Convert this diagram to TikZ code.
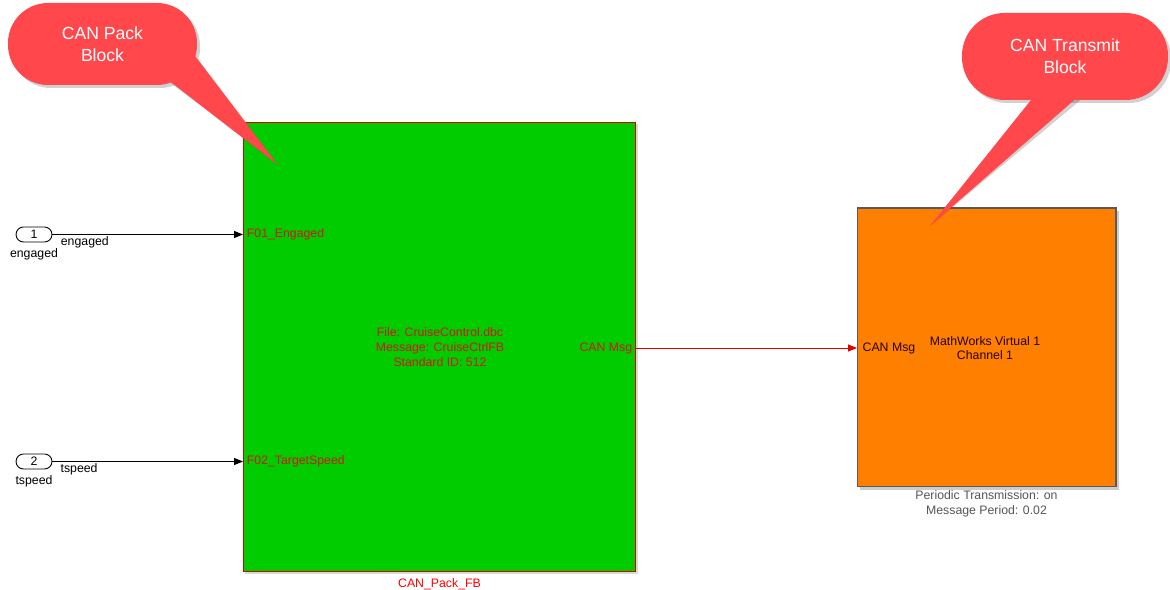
\documentclass[tikz,border=0pt]{standalone}
\usepackage{fontspec}
\setmainfont{Liberation Sans}
\usetikzlibrary{arrows.meta}
\definecolor{blkgreen}{RGB}{0,204,0}
\definecolor{blkorange}{RGB}{255,128,0}
\definecolor{callred}{RGB}{255,71,76}
\definecolor{portred}{RGB}{215,20,20}
\definecolor{gtext}{RGB}{85,85,85}
\tikzset{
  sl/.style={font=\fontsize{7}{8.4}\selectfont},
  blockpack/.style={draw=red!85!black, line width=0.6pt, fill=blkgreen, inner sep=0, outer sep=0,
    minimum width=7.86cm, minimum height=9cm},
  blocktx/.style={draw=black!65, line width=0.6pt, fill=blkorange, inner sep=0, outer sep=0,
    minimum width=5.18cm, minimum height=5.58cm},
  inport/.style={draw=black, line width=0.5pt, fill=white, rounded corners=0.15cm, inner sep=0,
    minimum width=0.72cm, minimum height=0.3cm, sl},
  sig/.style={line width=0.5pt, -{Triangle[length=1.8mm,width=1.4mm]}},
  pill/.style={fill=callred, rounded corners=0.8cm, inner sep=0, text=white, align=center,
    font=\fontsize{10}{12.5}\selectfont},
  shad/.style={fill=black, opacity=0.18},
}
\begin{document}
\begin{tikzpicture}[x=0.02cm,y=-0.02cm]
\useasboundingbox (0,0) rectangle (1170,590);

% blocks
\fill[black, opacity=0.2] (860,211) rectangle (1119,490);
\fill[black, opacity=0.15] (245,124) rectangle (638,574);
\node[blockpack] (pack) at (439.5,347) {};
\node[blocktx] (tx) at (986.5,347.5) {};

% inports
\node[inport] (in1) at (34,234.5) {1};
\node[sl, anchor=north] (in1lab) at (in1.south) {engaged};
\node[inport] (in2) at (34,461.5) {2};
\node[sl, anchor=north] (in2lab) at (in2.south) {tspeed};

\coordinate (p1) at (pack.west |- in1);
\coordinate (p2) at (pack.west |- in2);
\coordinate (pout) at (636,348);
\coordinate (tin) at (tx.west |- pout);

\draw[sig] (in1) -- node[sl, pos=0.17, below, inner sep=1pt] (s1) {engaged} (p1);
\draw[sig] (in2) -- node[sl, pos=0.14, below, inner sep=1pt] (s2) {tspeed} (p2);
\draw[sig, red!90!black] (pout) -- (tin);

% pack text
\node[sl, text=portred, anchor=west, inner sep=2pt] (f1) at (p1) {F01\_Engaged};
\node[sl, text=portred, anchor=west, inner sep=2pt] (f2) at (p2) {F02\_TargetSpeed};
\node[sl, text=portred, anchor=east, inner sep=2pt] (cm1) at (pout) {CAN Msg};
\node[sl, text=portred, align=center] (ptxt) at (440,347) {File: CruiseControl.dbc\\Message: CruiseCtrlFB\\Standard ID: 512};
\node[sl, text=red, anchor=north, inner sep=3.5pt] (pname) at (pack.south) {CAN\_Pack\_FB};

% transmit text
\node[sl, text=black!85!red, anchor=west, inner sep=3pt] (cm2) at (tin) {CAN Msg};
\node[sl, text=black!85!red, align=center] (ttxt) at (985,348) {MathWorks Virtual 1\\Channel 1};
\node[sl, text=gtext, align=center, anchor=north, inner sep=2pt] (tname) at (tx.south) {Periodic Transmission: on\\Message Period: 0.02};

% callouts
\coordinate (tip1) at (278,165);
\coordinate (tip2) at (930,226);
\begin{scope}[shift={(3,3)}]
\fill[shad, rounded corners=0.8cm] (8,3) rectangle (197,85);
\fill[shad] (168,80) -- (195,56) -- (tip1) -- cycle;
\fill[shad, rounded corners=0.85cm] (962,13) rectangle (1168,100);
\fill[shad] (1035,95) -- (1080,95) -- (tip2) -- cycle;
\end{scope}
\fill[callred] (168,80) -- (195,56) -- (tip1) -- cycle;
\node[pill, minimum width=3.78cm, minimum height=1.64cm] (c1) at (102.5,44) {CAN Pack\\Block};
\fill[callred] (1035,95) -- (1080,95) -- (tip2) -- cycle;
\node[pill, rounded corners=0.85cm, minimum width=4.12cm, minimum height=1.74cm] (c2) at (1065,56.5) {CAN Transmit\\Block};
\end{tikzpicture}
\end{document}
